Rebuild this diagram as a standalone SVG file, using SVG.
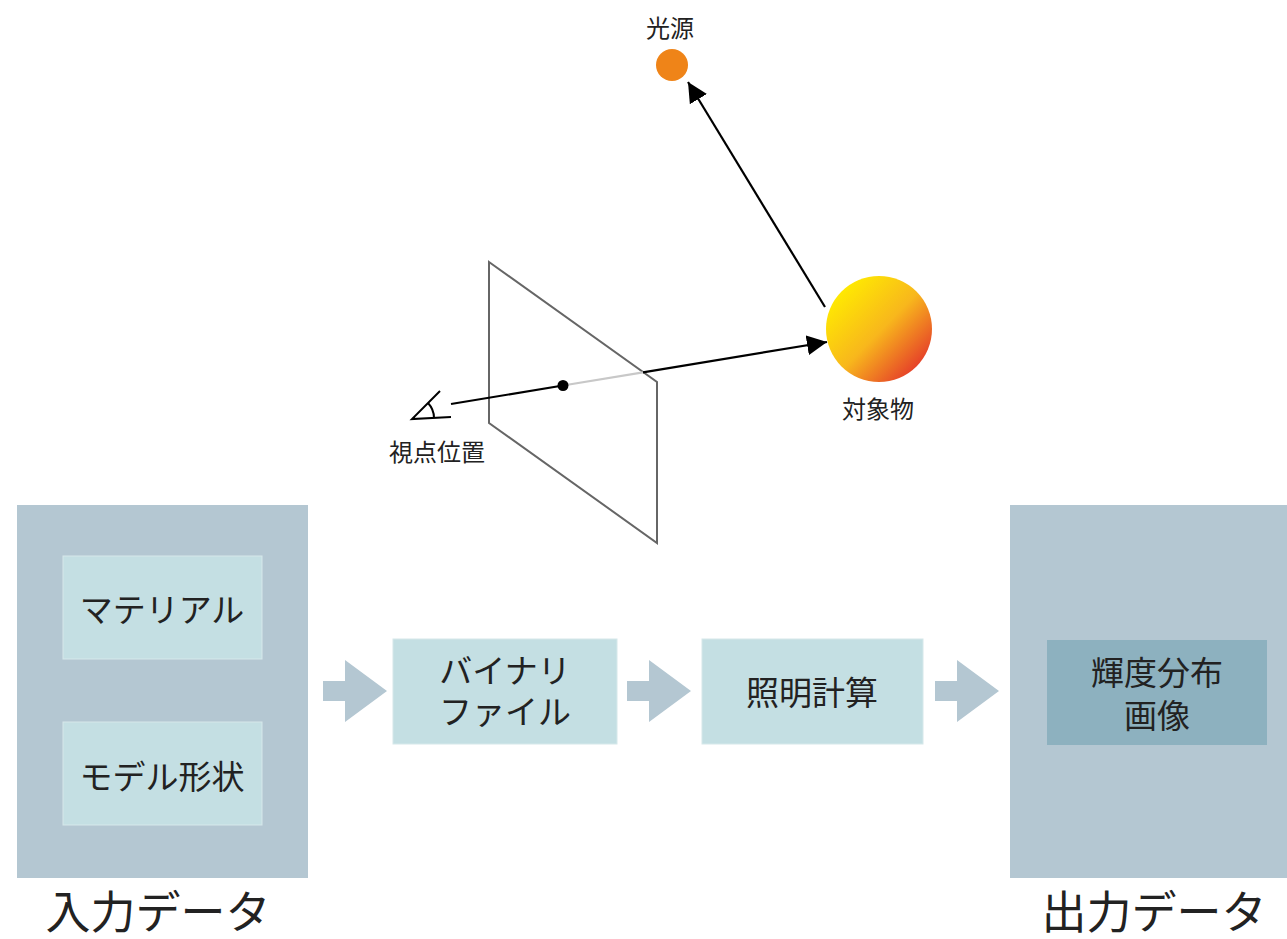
<svg xmlns="http://www.w3.org/2000/svg" width="1287" height="939" viewBox="0 0 1287 939">
  <style>
    text { font-family: "Noto Sans CJK JP", "Noto Sans", sans-serif; fill: #222; text-anchor: middle; dominant-baseline: central; }
    .lbl { font-size: 24px; }
    .box { font-size: 33px; }
    .big { font-size: 45px; }
    .panel { fill: #b4c7d2; }
    .item { fill: #c4dfe3; stroke: #d6e8ea; stroke-width: 1; }
    .flow { fill: #b4c7d2; }
    .ray { stroke: #000; stroke-width: 2.2; fill: none; }
  </style>
  <defs>
    <marker id="headBig" viewBox="0 0 10 10" refX="10" refY="5" markerWidth="20" markerHeight="20" markerUnits="userSpaceOnUse" orient="auto">
      <path d="M0,0 L10,5 L0,10 z" fill="#000"/>
    </marker>
    <linearGradient id="sphere" x1="0.12" y1="0.12" x2="0.92" y2="0.9">
      <stop offset="0" stop-color="#ffec00"/>
      <stop offset="0.5" stop-color="#f8b71c"/>
      <stop offset="1" stop-color="#e3302b"/>
    </linearGradient>
    <!-- block arrow between stages, origin at left middle -->
    <path id="flowArrow" d="M0,-10 L22,-10 L22,-31 L64,0 L22,31 L22,10 L0,10 z"/>
  </defs>

  <!-- scene: screen plane -->
  <g id="plane">
    <polygon points="489,262 657,382 657,543 489,423" fill="none" stroke="#666" stroke-width="2"/>
  </g>

  <!-- scene: eye -->
  <g id="viewpoint">
    <path d="M451,417 L412,419 L440,391" fill="none" stroke="#000" stroke-width="2"/>
    <path d="M428,403 A22,22 0 0 1 434,418" fill="none" stroke="#000" stroke-width="2"/>
    <text class="lbl" x="437" y="450">視点位置</text>
  </g>

  <!-- scene: object -->
  <g id="object">
    <circle cx="879" cy="329" r="53" fill="url(#sphere)"/>
    <text class="lbl" x="878" y="407">対象物</text>
  </g>

  <!-- scene: light -->
  <g id="light">
    <circle cx="672" cy="65" r="16" fill="#ef8418"/>
    <text class="lbl" x="670" y="26">光源</text>
  </g>

  <!-- rays and flow arrows -->
  <g id="connectors">
    <line class="ray" x1="451" y1="404" x2="563" y2="385.5"/>
    <line x1="563" y1="385.5" x2="643" y2="372.3" stroke="#c8c8c8" stroke-width="2.2"/>
    <line class="ray" x1="643" y1="372.3" x2="827" y2="342" marker-end="url(#headBig)"/>
    <circle cx="563" cy="385.5" r="5.5" fill="#000"/>
    <line class="ray" x1="825" y1="307" x2="688" y2="82" marker-end="url(#headBig)"/>
    <use href="#flowArrow" x="323" y="691" class="flow"/>
    <use href="#flowArrow" x="627" y="691" class="flow"/>
    <use href="#flowArrow" x="935" y="691" class="flow"/>
  </g>

  <!-- input data -->
  <g id="input">
    <rect class="panel" x="17" y="505" width="291" height="373"/>
    <text class="big" x="158" y="909">入力データ</text>
  </g>
  <g id="material">
    <rect class="item" x="63" y="556" width="199" height="103"/>
    <text class="box" x="162" y="608">マテリアル</text>
  </g>
  <g id="shape">
    <rect class="item" x="63" y="722" width="199" height="103"/>
    <text class="box" x="162" y="775">モデル形状</text>
  </g>

  <!-- processing -->
  <g id="binary">
    <rect class="item" x="393" y="639" width="224" height="105"/>
    <text class="box" x="505" y="669">バイナリ</text>
    <text class="box" x="505" y="710">ファイル</text>
  </g>
  <g id="lighting">
    <rect class="item" x="702" y="639" width="221" height="105"/>
    <text class="box" x="812" y="691">照明計算</text>
  </g>

  <!-- output data -->
  <g id="output">
    <rect class="panel" x="1010" y="505" width="277" height="373"/>
    <text class="big" x="1154" y="909">出力データ</text>
  </g>
  <g id="luminance">
    <rect x="1047" y="640" width="220" height="105" fill="#8db1bf"/>
    <text class="box" x="1157" y="671">輝度分布</text>
    <text class="box" x="1157" y="714">画像</text>
  </g>
</svg>
